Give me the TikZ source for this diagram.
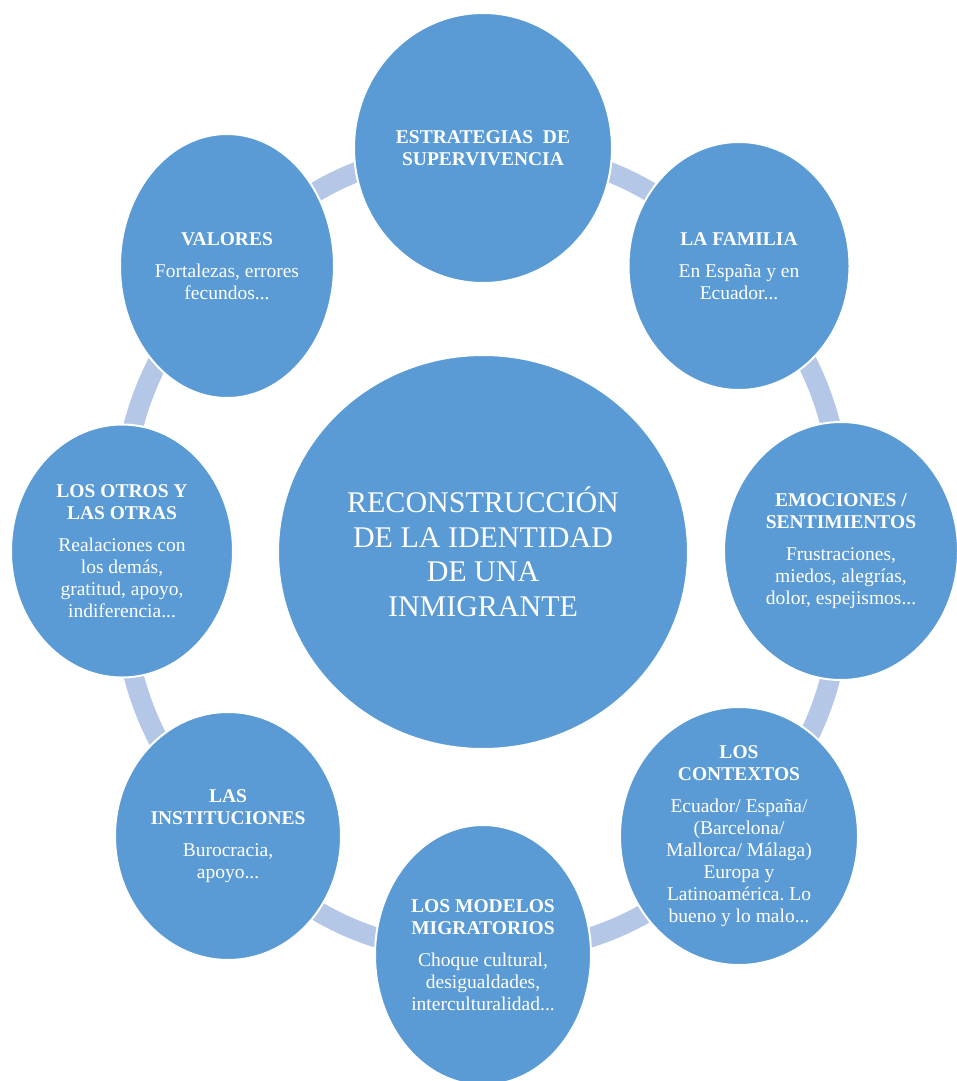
\documentclass[tikz,border=0pt]{standalone}
\usepackage{fontspec}
\setmainfont{Liberation Serif}
\usetikzlibrary{shapes.geometric,backgrounds}
\definecolor{bub}{HTML}{5B9BD5}
\definecolor{ringc}{HTML}{B4C7E7}
\frenchspacing
\begin{document}
\begin{tikzpicture}[x=1pt,y=-1pt,
  bubble/.style={ellipse, fill=bub, draw=white, line width=2pt, inner sep=0pt},
  txt/.style={text=white, align=center, inner sep=0pt, font=\fontsize{19.5}{22}\selectfont},
  bigtxt/.style={text=white, align=center, inner sep=0pt, font=\fontsize{30}{34.5}\selectfont},
  conn/.style={draw=ringc, line width=20pt}]
\useasboundingbox (0,0) rectangle (957,1081);
% bubbles
\node[bubble, minimum width=410pt, minimum height=394pt] (c) at (483,552) {};
\node[bubble, minimum width=258pt, minimum height=270pt] (t) at (483,148) {};
\node[bubble, minimum width=221pt, minimum height=248pt] (f) at (739,266) {};
\node[bubble, minimum width=234pt, minimum height=258pt] (e) at (841,551) {};
\node[bubble, minimum width=238pt, minimum height=258pt] (k) at (739,836) {};
\node[bubble, minimum width=216pt, minimum height=260pt] (m) at (483,955) {};
\node[bubble, minimum width=226pt, minimum height=248pt] (i) at (228,836) {};
\node[bubble, minimum width=222pt, minimum height=253pt] (o) at (122,551) {};
\node[bubble, minimum width=214pt, minimum height=264pt] (v) at (227,266) {};
% texts
\node[bigtxt] (ct) at (c.center) {RECONSTRUCCIÓN\\DE LA IDENTIDAD\\DE UNA\\INMIGRANTE};
\node[txt] (tt) at (t.center) {\textbf{ESTRATEGIAS\ \ DE}\\\textbf{SUPERVIVENCIA}};
\node[txt] (ft) at (f.center) {\textbf{LA FAMILIA}\\[10pt]En España y en\\Ecuador...};
\node[txt] (et) at (e.center) {\textbf{EMOCIONES /}\\\textbf{SENTIMIENTOS}\\[10pt]Frustraciones,\\miedos, alegrías,\\dolor, espejismos...};
\node[txt] (kt) at (k.center) {\textbf{LOS}\\\textbf{CONTEXTOS}\\[10pt]Ecuador/ España/\\(Barcelona/\\Mallorca/ Málaga)\\Europa y\\Latinoamérica. Lo\\bueno y lo malo...};
\node[txt] (mt) at (m.center) {\textbf{LOS MODELOS}\\\textbf{MIGRATORIOS}\\[10pt]Choque cultural,\\desigualdades,\\interculturalidad...};
\node[txt] (it) at (i.center) {\textbf{LAS}\\\textbf{INSTITUCIONES}\\[10pt]Burocracia,\\apoyo...};
\node[txt] (ot) at (o.center) {\textbf{LOS OTROS Y}\\\textbf{LAS OTRAS}\\[10pt]Realaciones con\\los demás,\\gratitud, apoyo,\\indiferencia...};
\node[txt] (vt) at (v.center) {\textbf{VALORES}\\[10pt]Fortalezas, errores\\fecundos...};
% connectors
\begin{pgfonlayer}{background}
\fill[white] (0,0) rectangle (957,1081);
\draw[conn] (t.center) to[bend left=22.5] (f.center);
\draw[conn] (f.center) to[bend left=22.5] (e.center);
\draw[conn] (e.center) to[bend left=22.5] (k.center);
\draw[conn] (k.center) to[bend left=22.5] (m.center);
\draw[conn] (m.center) to[bend left=22.5] (i.center);
\draw[conn] (i.center) to[bend left=22.5] (o.center);
\draw[conn] (o.center) to[bend left=22.5] (v.center);
\draw[conn] (v.center) to[bend left=22.5] (t.center);
\end{pgfonlayer}
\end{tikzpicture}
\end{document}
